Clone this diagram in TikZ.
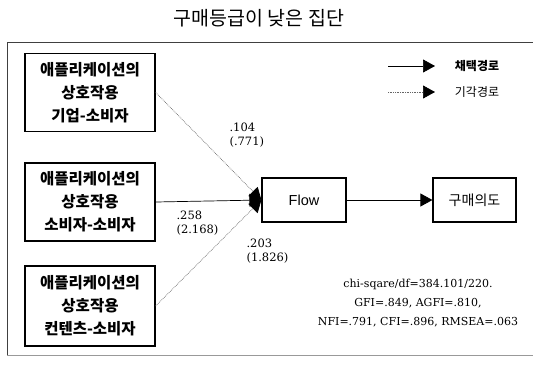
\documentclass[tikz,border=0pt]{standalone}
\usepackage{fontspec}
\usepackage{tikz}
\usetikzlibrary{arrows.meta}
\setmainfont{DejaVu Serif}
\newfontfamily\kr{Noto Sans CJK KR}
\newfontfamily\flowfont{Liberation Sans}

\tikzset{
	factor/.style={shape=rectangle,draw=black,line width=1.4pt,minimum width=130pt,minimum height=78pt,align=center,font=\kr\bfseries\fontsize{15.5}{23}\selectfont},
	latent/.style={shape=rectangle,draw=black,line width=1.2pt,minimum width=84pt,minimum height=44pt},
	est/.style={anchor=west,align=left,font=\fontsize{11.5}{14.5}\selectfont},
	kept/.style={-{Triangle[length=12pt,width=13pt,black]},line width=0.7pt,draw=black},
	dropped/.style={-{Triangle[length=12pt,width=13pt,black]},line width=0.7pt,densely dotted,draw=black!60}
}

\begin{document}
\begin{tikzpicture}[x=1pt,y=-1pt]
	\useasboundingbox (0,0) rectangle (533,365);
	
	\node[font=\kr\fontsize{19.5}{22}\selectfont] (title) at (259, 18) {구매등급이 낮은 집단};
	\draw[line width=0.8pt, black!75] (533,42) -- (7,42) -- (7,355);
	\draw[line width=0.8pt, black!40] (7,355) -- (533,355);
	
	\node[factor] (inter1) at (90, 92.5)  {애플리케이션의\\상호작용\\기업-소비자};
	\node[factor] (inter2) at (90, 202)   {애플리케이션의\\상호작용\\소비자-소비자};
	\node[factor,minimum height=80pt] (inter3) at (90, 306) {애플리케이션의\\상호작용\\컨텐츠-소비자};
	\node[latent,font=\flowfont\fontsize{14.5}{16}\selectfont] (flow) at (304, 200) {Flow};
	\node[latent,minimum width=83pt,font=\kr\fontsize{14}{16}\selectfont] (intent) at (474.5, 200) {구매의도};
	
	\path (inter1.east) edge[dropped] (flow.west);
	\path (inter2.east) edge[kept]    (flow.west);
	\path (inter3.east) edge[dropped] (flow.west);
	\path (flow) edge[kept] (intent);
	
	\node[est] (est1) at (226, 135) {.104\\(.771)};
	\node[est] (est2) at (173, 223) {.258\\(2.168)};
	\node[est] (est3) at (243, 251) {.203\\(1.826)};
	
	% legend
	\coordinate (keptA) at (388, 66);
	\coordinate (keptB) at (435, 66);
	\coordinate (dropA) at (388, 92);
	\coordinate (dropB) at (435, 92);
	\path (keptA) edge[kept] (keptB);
	\path (dropA) edge[dropped] (dropB);
	\node[font=\kr\bfseries\fontsize{12}{14}\selectfont] (keptlab) at (477, 66) {채택경로};
	\node[font=\kr\fontsize{12}{14}\selectfont] (droplab) at (477, 92) {기각경로};
	
	\node[align=center,font=\fontsize{11}{19}\selectfont] (fit) at (418, 303)
		{chi-sqare/df=384.101/220.\\GFI=.849, AGFI=.810,\\NFI=.791, CFI=.896, RMSEA=.063};
\end{tikzpicture}
\end{document}
